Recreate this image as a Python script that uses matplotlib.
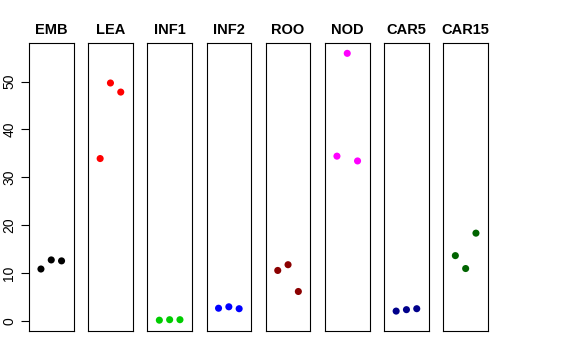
import numpy as np
import matplotlib
matplotlib.use("Agg")
import matplotlib.pyplot as plt

plt.rcParams["font.family"] = ["Liberation Sans", "DejaVu Sans"]

tissues = ["EMB", "LEA", "INF1", "INF2", "ROO", "NOD", "CAR5", "CAR15"]
colors = ["black", "red", "#00CD00", "blue", "#8B0000", "magenta", "#00008B", "#006400"]
rep_x = [1, 2, 3]
values = {
    "EMB":   [10.8, 12.7, 12.5],
    "LEA":   [33.9, 49.7, 47.8],
    "INF1":  [0.1, 0.2, 0.2],
    "INF2":  [2.6, 2.9, 2.5],
    "ROO":   [10.5, 11.7, 6.1],
    "NOD":   [34.4, 55.9, 33.4],
    "CAR5":  [2.0, 2.3, 2.5],
    "CAR15": [13.6, 10.9, 18.3],
}
yticks = [0, 10, 20, 30, 40, 50]

W, H = 576, 360
fig = plt.figure(figsize=(W / 100, H / 100), dpi=100)

left0, step, width = 29, 59.2, 44.5
top, bottom = 43.3, 330.7

for i, (name, col) in enumerate(zip(tissues, colors)):
    x0 = left0 + i * step
    ax = fig.add_axes([x0 / W, 1 - bottom / H, width / W, (bottom - top) / H])
    ax.scatter(rep_x, values[name], s=26, color=col, edgecolors="none", zorder=3)
    ax.set_xlim(-0.16, 4.16)
    ax.set_ylim(-2.1, 58.0)
    ax.set_xticks([])
    for sp in ax.spines.values():
        sp.set_linewidth(0.8)
        sp.set_color("black")
    ax.set_title(name, fontsize=10.5, fontweight="bold", pad=6.5)
    if i == 0:
        ax.set_yticks(yticks)
        ax.set_yticklabels([str(v) for v in yticks], rotation=90, va="center")
        ax.tick_params(axis="y", length=6, width=0.8, labelsize=10, pad=3)
    else:
        ax.set_yticks([])

fig.savefig("out.png", dpi=100, facecolor="white")
